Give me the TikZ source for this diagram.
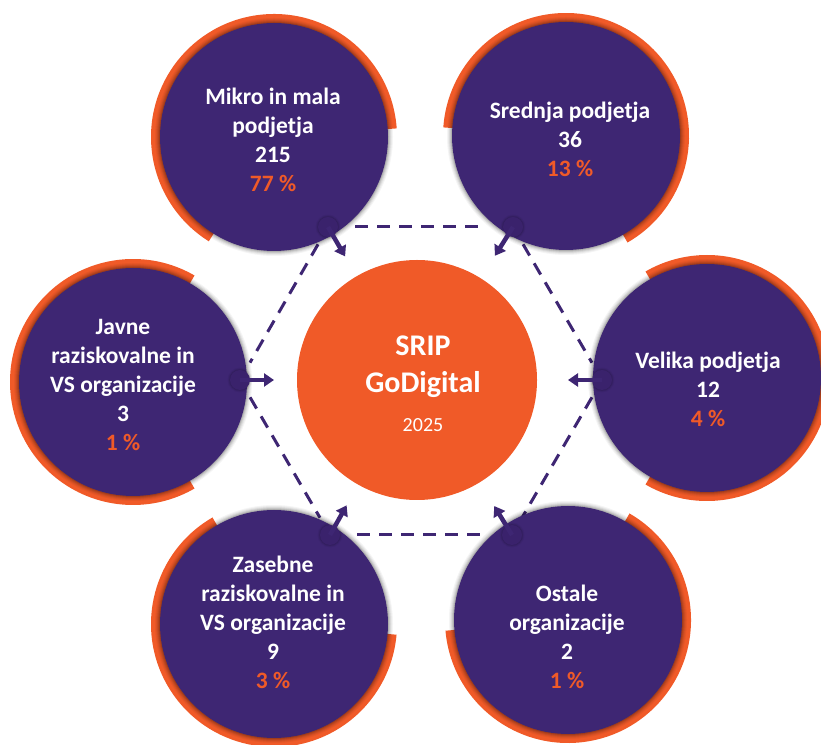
\documentclass[tikz,border=0pt]{standalone}
\usepackage{fontspec}
\setmainfont{Carlito}
\usetikzlibrary{calc,arrows.meta}
\definecolor{purp}{HTML}{3E2673}
\definecolor{purpd}{HTML}{3A226C}
\definecolor{orng}{HTML}{F05A28}
\begin{document}
\begin{tikzpicture}[x=1pt,y=1pt,
  bigc/.style={circle,fill=purp,minimum size=228pt,inner sep=0pt},
  dotc/.style={circle,fill=purpd,minimum size=20pt,inner sep=0pt},
  hubc/.style={circle,fill=orng,minimum size=240pt,inner sep=0pt},
  dashline/.style={draw=purp,line width=3pt,dash pattern=on 13pt off 9pt},
  arr/.style={draw=purp,line width=4.5pt,-{Triangle[width=13pt,length=10pt]}},
  lbl/.style={text=white,font=\bfseries\fontsize{23.5}{29}\selectfont,align=center},
  hubtxt/.style={text=white,font=\bfseries\fontsize{30}{37}\selectfont,anchor=base},
  ring/.style={fill=orng}
]
\useasboundingbox (0,0) rectangle (821,744);

% hub
\node[hubc] (hub) at (417,364) {};

% hexagon vertices
\coordinate (vTL) at (328,517);
\coordinate (vTR) at (513,517);
\coordinate (vL)  at (240,364);
\coordinate (vR)  at (602,364);
\coordinate (vBL) at (330,209);
\coordinate (vBR) at (512,209);

% dashed hexagon
\draw[dashline,shorten <=27pt,shorten >=27pt] (vTL) -- (vTR);
\draw[dashline,shorten <=27pt,shorten >=27pt] (vBL) -- (vBR);
\draw[dashline,shorten <=20pt,shorten >=20pt] (vTL) -- (vL);
\draw[dashline,shorten <=20pt,shorten >=20pt] (vL) -- (vBL);
\draw[dashline,shorten <=20pt,shorten >=20pt] (vTR) -- (vR);
\draw[dashline,shorten <=20pt,shorten >=20pt] (vR) -- (vBR);

% big circle centres
\coordinate (cA) at (274,607);
\coordinate (cB) at (566,608);
\coordinate (cC) at (707,366);
\coordinate (cD) at (568,124);
\coordinate (cE) at (274,120);
\coordinate (cF) at (133,362);

% orange ring sectors
\foreach \c/\a/\b in {cA/4/238, cB/-60/176, cC/-120/120, cD/-175/60, cE/120/355, cF/60/300}{
  \fill[ring] ($(\c)+(\a:123)$) arc[start angle=\a,end angle=\b,radius=123]
     -- ($(\c)+(\b:108)$) arc[start angle=\b,end angle=\a,radius=108] -- cycle;
}

% shadows of big circles
\foreach \c in {cA,cB,cC,cD,cE,cF}{
  \foreach \r/\o in {119/0.04,118/0.05,117/0.07,116/0.09,115/0.12}{
    \fill[black,opacity=\o] (\c) circle[radius=\r];
  }
}

% big circles
\node[bigc] (mikro)   at (cA) {};
\node[bigc] (srednja) at (cB) {};
\node[bigc] (velika)  at (cC) {};
\node[bigc] (ostale)  at (cD) {};
\node[bigc] (zasebne) at (cE) {};
\node[bigc] (javne)   at (cF) {};

% small connector circles
\foreach \v in {vTL,vTR,vL,vR,vBL,vBR}{
  \foreach \r/\o in {12.5/0.04,11.5/0.06,10.7/0.08}{
    \fill[black,opacity=\o] (\v) circle[radius=\r];
  }
}
\node[dotc] (dTL) at (vTL) {};
\node[dotc] (dTR) at (vTR) {};
\node[dotc] (dL)  at (vL)  {};
\node[dotc] (dR)  at (vR)  {};
\node[dotc] (dBL) at (vBL) {};
\node[dotc] (dBR) at (vBR) {};

% arrows toward the hub
\foreach \d in {dTL,dTR,dL,dR,dBL,dBR}{
  \draw[arr] (\d.center) -- ($(\d.center)!34pt!(hub.center)$);
}

% hub text
\node[hubtxt] (hub-a) at (423,388) {SRIP};
\node[hubtxt] (hub-b) at (423,351) {GoDigital};
\node[text=white,font=\fontsize{20}{24}\selectfont,anchor=base] (hub-c) at (423,312) {2025};

% circle texts
\node[lbl] (mikro-t)   at (273,604) {Mikro in mala\\podjetja\\215\\\textcolor{orng}{77 \%}};
\node[lbl] (srednja-t) at (570,605) {Srednja podjetja\\36\\\textcolor{orng}{13 \%}};
\node[lbl] (velika-t)  at (708,355) {Velika podjetja\\12\\\textcolor{orng}{4 \%}};
\node[lbl] (ostale-t)  at (567,107) {Ostale\\organizacije\\2\\\textcolor{orng}{1 \%}};
\node[lbl] (zasebne-t) at (273,122) {Zasebne\\raziskovalne in\\VS organizacije\\9\\\textcolor{orng}{3 \%}};
\node[lbl] (javne-t)   at (123,359) {Javne\\raziskovalne in\\VS organizacije\\3\\\textcolor{orng}{1 \%}};
\end{tikzpicture}
\end{document}
